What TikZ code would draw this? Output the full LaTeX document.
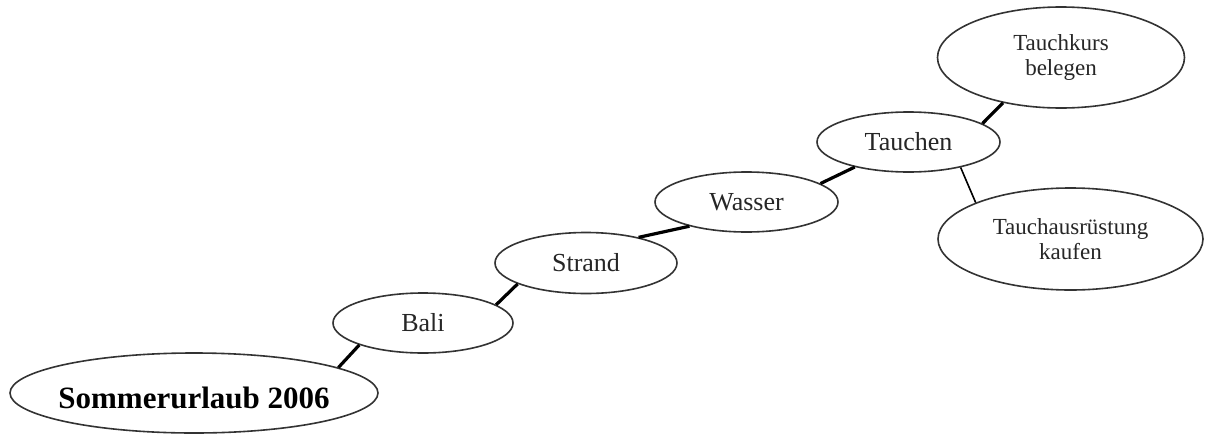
\documentclass[tikz,border=0pt]{standalone}
\usepackage{fontspec}
\setmainfont{Liberation Serif}
\usetikzlibrary{shapes.geometric}
\begin{document}
\begin{tikzpicture}[x=1pt,y=-1pt,
  bubble/.style={ellipse, draw=black!80, line width=1.6pt, fill=white,
    inner xsep=-15pt, inner ysep=0pt, text=black!85, align=center},
  topic/.style={bubble, font=\fontsize{26}{30}\selectfont},
  subtopic/.style={bubble, font=\fontsize{23}{24.5}\selectfont},
  roottopic/.style={bubble, text=black, font=\fontsize{31}{34}\selectfont\bfseries},
  link/.style={line width=3.2pt, black},
  thinlink/.style={line width=1.6pt, black}]
\useasboundingbox (0,0) rectangle (1210,434);

% mind map bubbles
\node[roottopic, minimum width=368pt, minimum height=80pt] (sommer) at (194,393)
  {\raisebox{-4.5pt}[\height][\depth]{Sommerurlaub 2006}};
\node[topic, minimum width=180pt, minimum height=60pt] (bali) at (423,323) {Bali};
\node[topic, minimum width=182pt, minimum height=61pt] (strand) at (586,263) {Strand};
\node[topic, minimum width=183pt, minimum height=60pt] (wasser) at (746.5,202) {Wasser};
\node[topic, minimum width=183pt, minimum height=60pt] (tauchen) at (908.5,142) {Tauchen};
\node[subtopic, minimum width=247pt, minimum height=101pt] (kurs) at (1061,57.5)
  {Tauchkurs\\belegen};
\node[subtopic, minimum width=265pt, minimum height=102pt] (ausr) at (1070.5,239)
  {Tauchausrüstung\\kaufen};

% branches
\draw[link] (sommer.10) -- (bali.199);
\draw[link] (bali.14) -- (strand.197);
\draw[link] (strand.26) -- (wasser.203);
\draw[link] (wasser.14) -- (tauchen.205);
\draw[link] (tauchen.14) -- (kurs.218);
\draw[thinlink] (tauchen.334) -- (ausr.159);
\end{tikzpicture}
\end{document}
